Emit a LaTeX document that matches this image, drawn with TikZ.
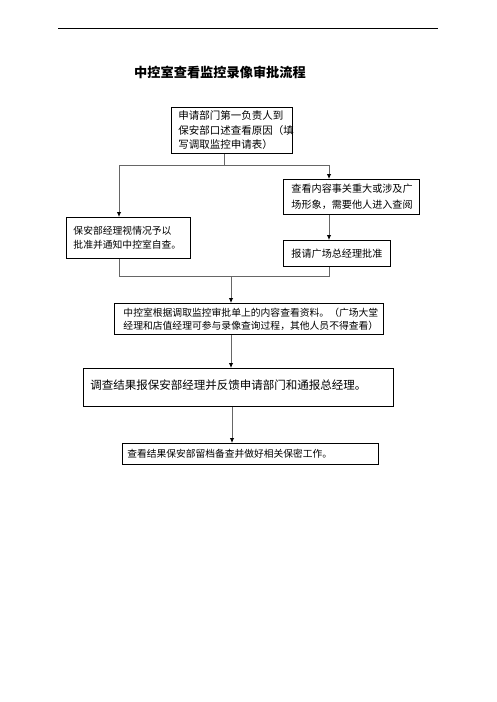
\documentclass[tikz,border=0pt]{standalone}
\usepackage{fontspec}
\newfontfamily\cjk{Noto Sans CJK SC}
\usetikzlibrary{arrows.meta}
\tikzset{
  box/.style={draw=black, line width=0.9pt, anchor=north west, align=left, inner ysep=0pt, font=\cjk},
  conn/.style={draw=black!60, line width=0.9pt},
  arr/.style={conn, -{Latex[length=5pt,width=4.5pt,color=black]}},
}
\begin{document}
\begin{tikzpicture}[x=1pt,y=-1pt]
\path[use as bounding box] (0,0) rectangle (496,702);
\draw[line width=0.9pt] (58,28) -- (438,28);
\node[font=\cjk\bfseries\fontsize{13.2pt}{15pt}\selectfont] (title) at (220,72) {中控室查看监控录像审批流程};

\node[box, inner xsep=7pt, minimum height=46pt, text width=107pt,
  font=\cjk\fontsize{10.5pt}{14.5pt}\selectfont] (b1) at (171,107)
  {申请部门第一负责人到\\保安部口述查看原因（填\\写调取监控申请表）};

\node[box, inner xsep=7pt, minimum height=41pt, text width=110pt,
  font=\cjk\fontsize{9.8pt}{14pt}\selectfont] (bl) at (66,217)
  {保安部经理视情况予以\\批准并通知中控室自查。};

\node[box, inner xsep=8pt, minimum height=35pt, text width=120pt,
  font=\cjk\fontsize{10.1pt}{16pt}\selectfont] (br1) at (283,179)
  {查看内容事关重大或涉及广\\场形象，需要他人进入查阅};

\node[box, inner xsep=8pt, minimum height=26pt, text width=91pt,
  font=\cjk\fontsize{10.1pt}{14pt}\selectfont] (br2) at (283,240)
  {报请广场总经理批准};

\node[box, inner xsep=9pt, minimum height=31pt, text width=251pt,
  font=\cjk\fontsize{9.8pt}{13pt}\selectfont] (bm) at (114,303)
  {中控室根据调取监控审批单上的内容查看资料。（广场大堂\\经理和店值经理可参与录像查询过程，其他人员不得查看）};

\node[box, inner xsep=7pt, minimum height=38pt, text width=296pt,
  font=\cjk\fontsize{11.5pt}{14pt}\selectfont] (bb) at (83,368)
  {\raisebox{6pt}{调查结果报保安部经理并反馈申请部门和通报总经理。}};

\node[box, inner xsep=5pt, minimum height=21pt, text width=246pt,
  font=\cjk\fontsize{9.75pt}{13pt}\selectfont] (bz) at (122,443)
  {查看结果保安部留档备查并做好相关保密工作。};

\coordinate (j1) at (224,165);
\coordinate (jl) at (119,165);
\coordinate (jr) at (329,165);
\coordinate (kl) at (119,276);
\coordinate (kr) at (329,276);
\coordinate (km) at (231,276);
\coordinate (xa) at (232,0);

\draw[conn] (b1.south -| j1) -- (j1);
\draw[conn] (jl) -- (jr);
\draw[arr] (jl) -- (bl.north -| jl);
\draw[arr] (jr) -- (br1.north -| jr);
\draw[arr] (br1.south -| jr) -- (br2.north -| jr);
\draw[conn] (bl.south -| kl) -- (kl) -- (kr) -- (br2.south -| kr);
\draw[arr] (km) -- (bm.north -| km);
\draw[arr] (bm.south -| km) -- (bb.north -| km);
\draw[arr] (bb.south -| xa) -- (bz.north -| xa);
\end{tikzpicture}
\end{document}
